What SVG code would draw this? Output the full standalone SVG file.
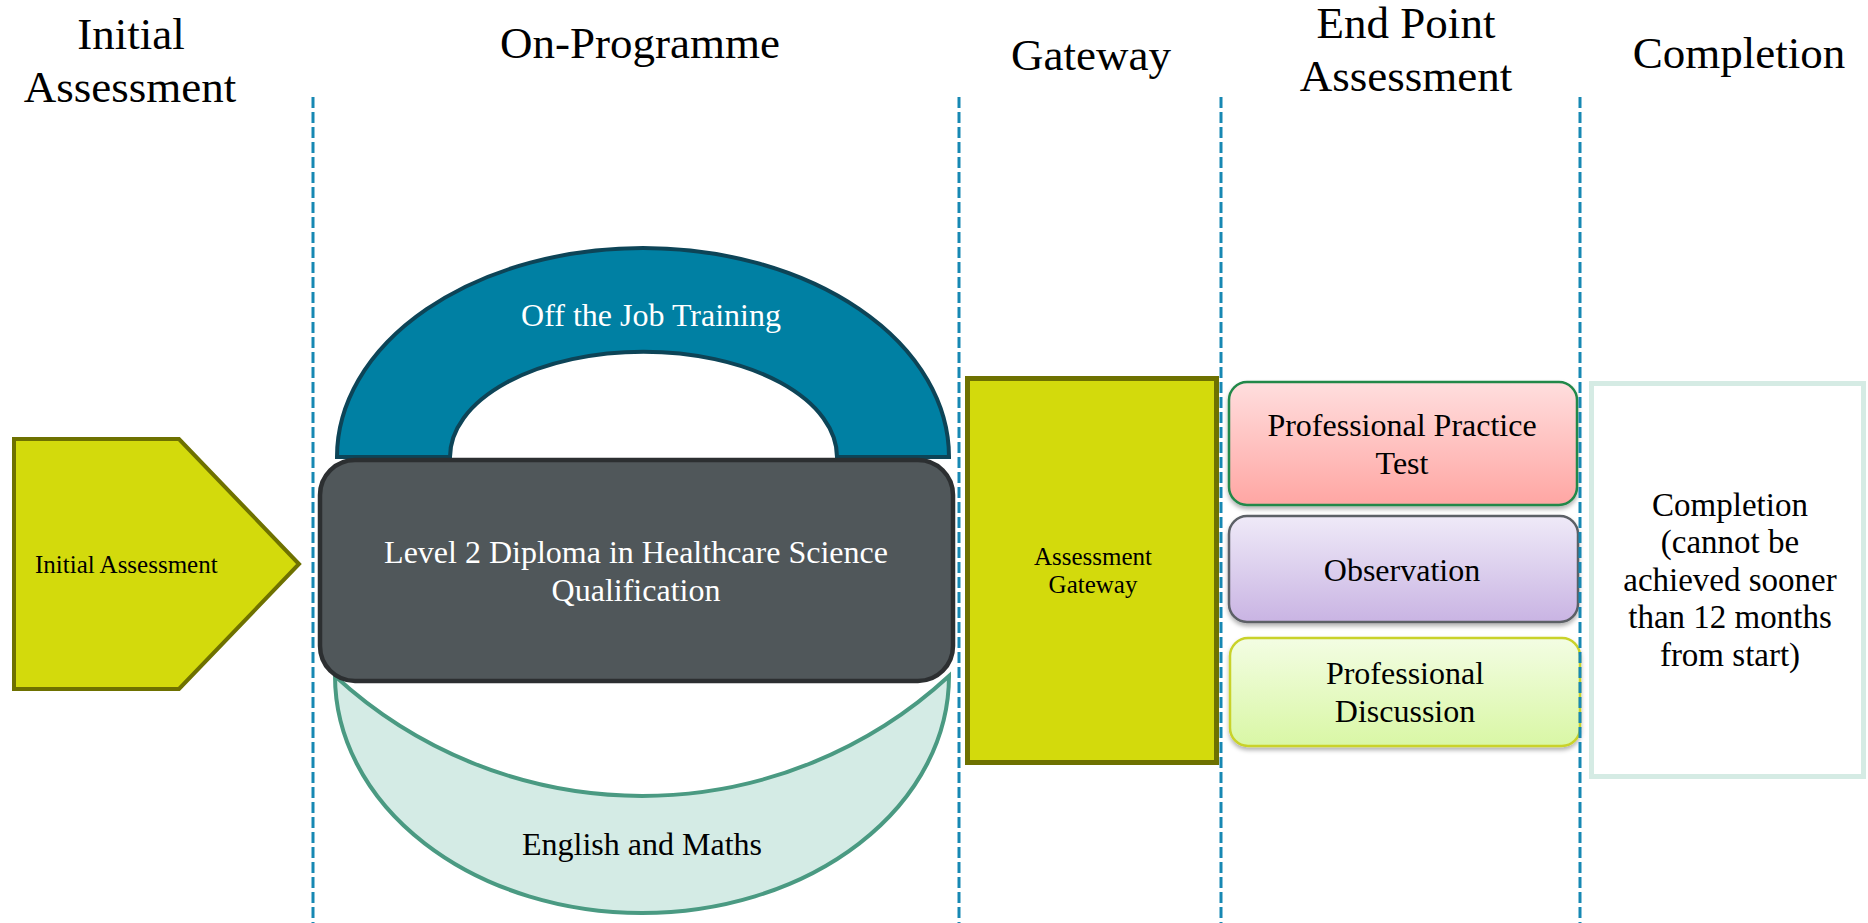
<svg xmlns="http://www.w3.org/2000/svg" width="1868" height="923" viewBox="0 0 1868 923">
  <style>
    text { font-family: "Liberation Serif", "Times New Roman", serif; text-anchor: middle; fill: #000; }
    .hdr { font-size: 45px; }
    .lbl { font-size: 32px; }
    .sm { font-size: 25px; }
    .white { fill: #ffffff; }
    .div { stroke: #1788b3; stroke-width: 3; stroke-dasharray: 11 4; fill: none; }
    .lime { fill: #d3da0c; stroke: #6e7100; }
  </style>
  <defs>
    <linearGradient id="gPink" x1="0" y1="0" x2="0" y2="1">
      <stop offset="0" stop-color="#ffdede"/>
      <stop offset="1" stop-color="#ffa6a3"/>
    </linearGradient>
    <linearGradient id="gLilac" x1="0" y1="0" x2="0" y2="1">
      <stop offset="0" stop-color="#efeaf8"/>
      <stop offset="1" stop-color="#c9b4e3"/>
    </linearGradient>
    <linearGradient id="gLime" x1="0" y1="0" x2="0" y2="1">
      <stop offset="0" stop-color="#f3fde3"/>
      <stop offset="1" stop-color="#d9f7a5"/>
    </linearGradient>
    <filter id="shadow" x="-5%" y="-10%" width="110%" height="130%">
      <feDropShadow dx="0" dy="3" stdDeviation="2" flood-color="#000" flood-opacity="0.3"/>
    </filter>
  </defs>

  <g id="headers">
    <text class="hdr" x="131" y="49">Initial</text>
    <text class="hdr" x="130" y="102">Assessment</text>
    <text class="hdr" x="640" y="58">On-Programme</text>
    <text class="hdr" x="1091" y="70">Gateway</text>
    <text class="hdr" x="1406" y="38">End Point</text>
    <text class="hdr" x="1406" y="91">Assessment</text>
    <text class="hdr" x="1739" y="68">Completion</text>
  </g>

  <g id="initial-assessment">
    <polygon class="lime" stroke-width="4" points="14,439 179,439 299,564 179,689 14,689"/>
    <text class="sm" x="35" y="573" style="text-anchor:start">Initial Assessment</text>
  </g>

  <g id="english-maths">
    <path d="M335,676 A307,237 0 0 0 949,676 A453,453 0 0 1 335,676 Z" fill="#d4ebe5" stroke="#4a9a82" stroke-width="4"/>
    <text class="lbl" x="642" y="855">English and Maths</text>
  </g>

  <g id="off-the-job">
    <path d="M337,457 A306,209 0 0 1 949,457 L837,457 A193,105 0 0 0 450,457 Z" fill="#0080a3" stroke="#0d4457" stroke-width="4"/>
    <text class="lbl white" x="651" y="326">Off the Job Training</text>
  </g>

  <g id="diploma">
    <rect x="320" y="460" width="633" height="221" rx="35" fill="#50575a" stroke="#2c2f31" stroke-width="4.5"/>
    <text class="lbl white" x="636" y="563">Level 2 Diploma in Healthcare Science</text>
    <text class="lbl white" x="636" y="601">Qualification</text>
  </g>

  <g id="gateway">
    <rect class="lime" x="967.5" y="378.5" width="249" height="384" stroke-width="5"/>
    <text class="sm" x="1093" y="565">Assessment</text>
    <text class="sm" x="1093" y="593">Gateway</text>
  </g>

  <g id="practice-test">
    <rect x="1229" y="382" width="348" height="123" rx="18" fill="url(#gPink)" stroke="#23884a" stroke-width="2.5" filter="url(#shadow)"/>
    <text class="lbl" x="1402" y="436">Professional Practice</text>
    <text class="lbl" x="1402" y="474">Test</text>
  </g>

  <g id="observation">
    <rect x="1229" y="516" width="349" height="106" rx="18" fill="url(#gLilac)" stroke="#5c6066" stroke-width="2.5" filter="url(#shadow)"/>
    <text class="lbl" x="1402" y="581">Observation</text>
  </g>

  <g id="discussion">
    <rect x="1230" y="638" width="350" height="108" rx="18" fill="url(#gLime)" stroke="#c9d22a" stroke-width="2.5" filter="url(#shadow)"/>
    <text class="lbl" x="1405" y="684">Professional</text>
    <text class="lbl" x="1405" y="722">Discussion</text>
  </g>

  <g id="completion">
    <rect x="1591.5" y="383.5" width="272" height="393" fill="#ffffff" stroke="#d5ebe4" stroke-width="5"/>
    <text class="lbl" x="1730" y="516" style="font-size:33px">Completion</text>
    <text class="lbl" x="1730" y="553" style="font-size:33px">(cannot be</text>
    <text class="lbl" x="1730" y="591" style="font-size:33px">achieved sooner</text>
    <text class="lbl" x="1730" y="628" style="font-size:33px">than 12 months</text>
    <text class="lbl" x="1730" y="666" style="font-size:33px">from start)</text>
  </g>

  <g id="connectors">
    <line class="div" x1="313" y1="97" x2="313" y2="923"/>
    <line class="div" x1="959" y1="97" x2="959" y2="923"/>
    <line class="div" x1="1221" y1="97" x2="1221" y2="923"/>
    <line class="div" x1="1580" y1="97" x2="1580" y2="923"/>
  </g>
</svg>
